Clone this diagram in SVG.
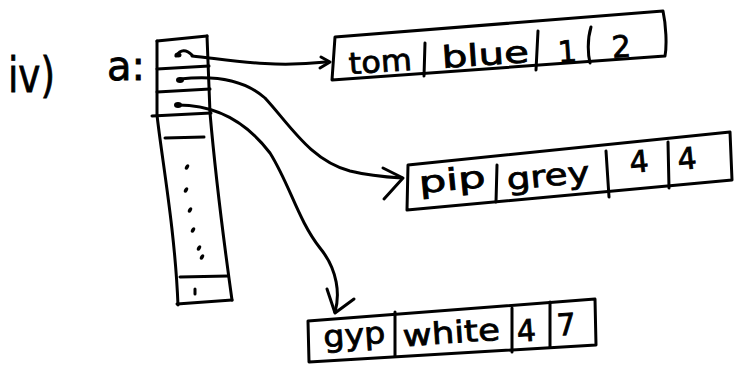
<svg xmlns="http://www.w3.org/2000/svg" width="739" height="369" viewBox="0 0 739 369">
<style>
.ln{fill:none;stroke:#000;stroke-width:3;stroke-linecap:round;stroke-linejoin:round}
.t{font-family:"DejaVu Sans",sans-serif;font-size:30px;fill:#000;stroke:#000;stroke-width:0.8;text-anchor:middle}
.lbl{font-family:"DejaVu Sans",sans-serif;fill:#000;stroke:#000;stroke-width:0.8}
.dot{fill:#000}
</style>
<rect width="739" height="369" fill="#fff"/>
<g id="labels">
<text class="lbl" x="8" y="92" font-size="48" textLength="47" lengthAdjust="spacingAndGlyphs">iv)</text>
<text class="lbl" x="107" y="80" font-size="40">a:</text>
</g>
<g id="array">
<path class="ln" d="M157,41 L207,36"/>
<path class="ln" d="M157,41 L157,115 C162,160 175,230 178,305"/>
<path class="ln" d="M207,36 L210,113 C215,170 225,250 232,300"/>
<path class="ln" d="M177,304 L232,300"/>
<path class="ln" d="M157,69 L209,66"/>
<path class="ln" d="M157,92 L210,89"/>
<path class="ln" d="M152,116 L211,113"/>
<path class="ln" d="M165,138 L204,137"/>
<path class="ln" d="M180,277 L228,276"/>
<path class="ln" d="M195,289 L195,294"/>
<ellipse class="dot" cx="187" cy="167" rx="1.8" ry="3" transform="rotate(30 187 167)"/>
<ellipse class="dot" cx="186" cy="190" rx="1.8" ry="3" transform="rotate(30 186 190)"/>
<ellipse class="dot" cx="190" cy="210" rx="1.8" ry="3" transform="rotate(30 190 210)"/>
<ellipse class="dot" cx="193" cy="230" rx="1.8" ry="3" transform="rotate(30 193 230)"/>
<ellipse class="dot" cx="199" cy="248" rx="1.8" ry="3" transform="rotate(30 199 248)"/>
<ellipse class="dot" cx="202" cy="257" rx="1.8" ry="3" transform="rotate(30 202 257)"/>
<path class="ln" d="M176,56 Q183,46 192,55"/>
<ellipse class="dot" cx="178" cy="55" rx="3.5" ry="2.5"/>
<ellipse class="dot" cx="180" cy="80" rx="4" ry="3"/>
<ellipse class="dot" cx="178" cy="105" rx="4" ry="3"/>
</g>
<g id="connectors">
<path class="ln" d="M192,56 C230,60 270,68 326,62"/>
<path class="ln" d="M321,57 L330,62 L320,68"/>
<path class="ln" d="M180,79 C215,75 245,80 265,98 C290,125 310,160 350,171 C370,176 385,177 402,178"/>
<path class="ln" d="M383,168 L403,178 L384,199"/>
<path class="ln" d="M178,105 C215,105 245,120 270,153 C290,185 298,220 320,248 C338,270 340,295 335,312"/>
<path class="ln" d="M327,289 L335,313 L354,299"/>
</g>
<g id="rec-tom">
<path class="ln" d="M335,37 L663,11 C666,25 667,45 665,56 L332,80 Z"/>
<path class="ln" d="M425,43 L424,76"/>
<path class="ln" d="M538,31 L536,70"/>
<path class="ln" d="M591,27 C587,40 588,55 590,63"/>
<text class="t" x="381" y="72" textLength="63" lengthAdjust="spacingAndGlyphs" transform="rotate(-4 381 72)">tom</text>
<text class="t" x="486" y="65" textLength="87" lengthAdjust="spacingAndGlyphs" transform="rotate(-4 486 65)">blue</text>
<text class="t" x="568" y="62" transform="rotate(-4 568 62)">1</text>
<text class="t" x="622" y="57" transform="rotate(-4 622 57)">2</text>
</g>
<g id="rec-pip">
<path class="ln" d="M408,165 L730,132 L732,180 L407,210 Z"/>
<path class="ln" d="M497,165 L496,202"/>
<path class="ln" d="M606,151 L609,197"/>
<path class="ln" d="M668,142 L669,188"/>
<text class="t" x="453" y="190" textLength="67" lengthAdjust="spacingAndGlyphs" transform="rotate(-5.5 453 190)">pip</text>
<text class="t" x="549" y="186" textLength="83" lengthAdjust="spacingAndGlyphs" transform="rotate(-5.5 549 186)">grey</text>
<text class="t" x="640" y="172" transform="rotate(-5.5 640 172)">4</text>
<text class="t" x="688" y="169" transform="rotate(-5.5 688 169)">4</text>
</g>
<g id="rec-gyp">
<path class="ln" d="M308,321 L595,299 L596,345 L309,362 Z"/>
<path class="ln" d="M395,312 L395,356"/>
<path class="ln" d="M512,308 L512,352"/>
<path class="ln" d="M550,302 L550,347"/>
<text class="t" x="355" y="345" textLength="62" lengthAdjust="spacingAndGlyphs" transform="rotate(-4 355 345)">gyp</text>
<text class="t" x="452" y="343" textLength="97" lengthAdjust="spacingAndGlyphs" transform="rotate(-4 452 343)">white</text>
<text class="t" x="527" y="341" transform="rotate(-4 527 341)">4</text>
<text class="t" x="567" y="335" transform="rotate(-4 567 335)">7</text>
</g>
</svg>
